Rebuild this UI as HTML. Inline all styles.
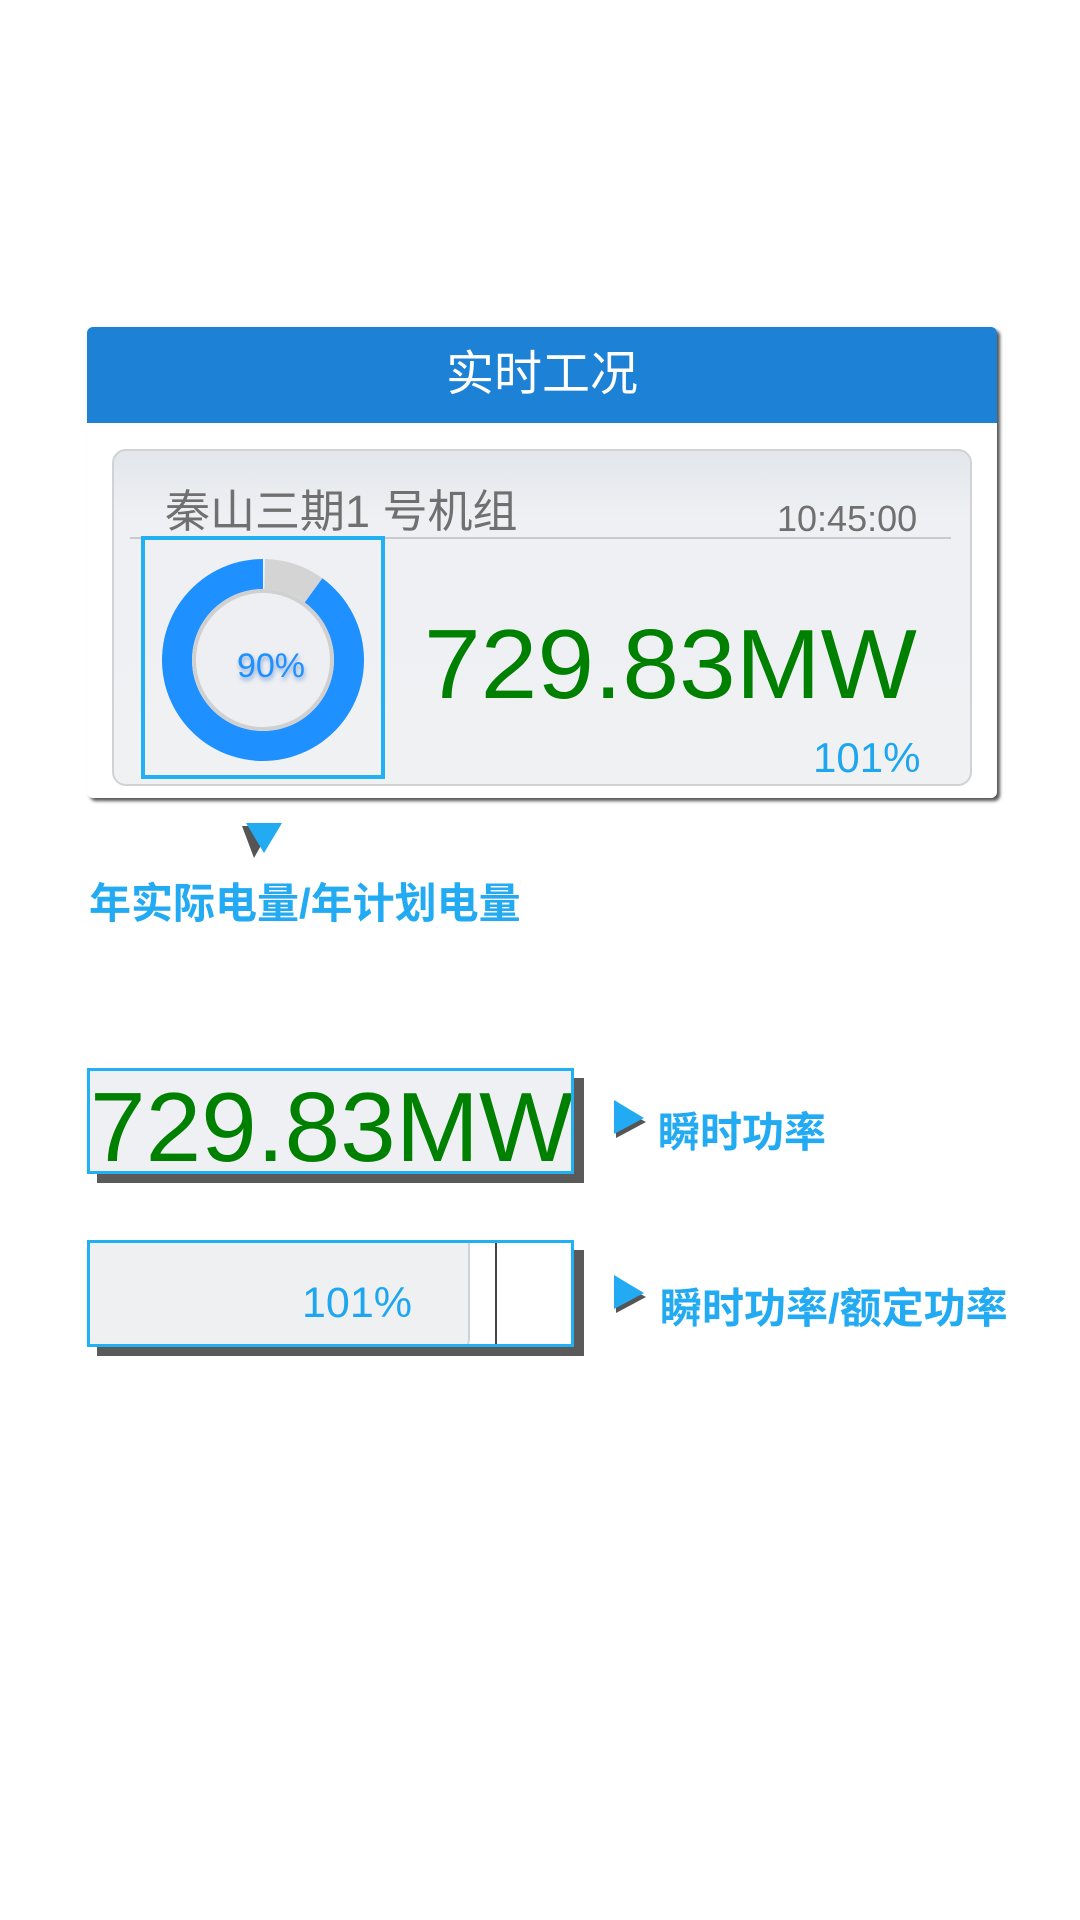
<!DOCTYPE html>
<html><head><meta charset="utf-8"><style>
body{margin:0;width:1080px;height:1920px;background:#fff;position:relative;overflow:hidden;font-family:"Liberation Sans","Noto Sans CJK SC",sans-serif}
.abs{position:absolute}
.lbl{color:#22aaf2;font-weight:bold;white-space:nowrap}
.big{font-size:98px;color:#008000;line-height:1;transform:scaleX(1.04);transform-origin:left top;white-space:nowrap}
</style></head><body>
<div class="abs" style="left:87px;top:327px;width:910px;height:471px;background:#fff;border-radius:6px;box-shadow:3px 3px 3px #555;overflow:hidden">
 <div class="abs" style="left:0;top:0;width:910px;height:96px;background:#1d82d6;color:#fff;font-size:48px;line-height:96px;text-align:center">实时工况</div>
 <div class="abs" style="left:25px;top:122px;width:856px;height:333px;background:linear-gradient(#e3e6eb,#eef0f3 20%,#f0f1f3);border:2px solid #d0d2d5;border-radius:14px"></div>
 <div class="abs" style="left:78px;top:148px;font-size:45px;color:#707070;white-space:nowrap">秦山三期1 号机组</div>
 <div class="abs" style="left:690px;top:171px;font-size:36px;color:#707070">10:45:00</div>
 <div class="abs" style="left:43px;top:210px;width:821px;height:2px;background:#c8cacd"></div>
 <svg class="abs" id="donut" style="left:54px;top:209px" width="243" height="243"></svg>
 <div class="abs big" style="left:337px;top:288px">729.83MW</div>
 <div class="abs" style="left:726px;top:407px;font-size:42px;color:#1ea7f0">101%</div>
</div>
<svg class="abs" style="left:238px;top:820px" width="50" height="40"><polygon points="4,6 34,6 16,38" fill="#555"/><polygon points="8,3 44,3 26,33" fill="#22aaf2"/></svg>
<div class="abs lbl" style="left:89px;top:870px;font-size:42px">年实际电量/年计划电量</div>
<div class="abs" style="left:97px;top:1078px;width:487px;height:105px;background:#5a5a5a"></div>
<div class="abs" style="left:87px;top:1068px;width:481px;height:100px;border:3px solid #22b0f5;background:#eef0f3;overflow:hidden">
 <div class="abs big" style="left:0px;top:7px;transform:scaleX(1.02)">729.83MW</div>
</div>
<svg class="abs" style="left:612px;top:1098px" width="40" height="46"><polygon points="4,40 4,8 34,24" fill="#555"/><polygon points="2,2 2,36 32,20" fill="#22aaf2"/></svg>
<div class="abs lbl" style="left:658px;top:1099px;font-size:42px">瞬时功率</div>
<div class="abs" style="left:97px;top:1250px;width:487px;height:106px;background:#5a5a5a"></div>
<div class="abs" style="left:87px;top:1240px;width:481px;height:101px;border:3px solid #22b0f5;background:#fff;overflow:hidden">
 <div class="abs" style="left:-20px;top:-20px;width:396px;height:126px;background:#eff0f2;border:2px solid #d0d2d5;border-radius:14px"></div>
 <div class="abs" style="left:405px;top:0;width:2px;height:101px;background:#444"></div>
 <div class="abs" style="left:212px;top:36px;font-size:43px;color:#1ea7f0">101%</div>
</div>
<svg class="abs" style="left:612px;top:1273px" width="40" height="46"><polygon points="4,40 4,8 34,24" fill="#555"/><polygon points="2,2 2,36 32,20" fill="#22aaf2"/></svg>
<div class="abs lbl" style="left:660px;top:1275px;font-size:42px">瞬时功率/额定功率</div>
<script>
const donutValue = [90];
const donutMax = [100];
const donutLabel = ['90%'];
const svg=document.getElementById('donut');
const NS='http://www.w3.org/2000/svg';
const cx=122,cy=124,R=101,r=71;
function arcPath(a0,a1){
 const p=(a,rad)=>[cx+rad*Math.sin(a),cy-rad*Math.cos(a)];
 const large=(a1-a0)>Math.PI?1:0;
 const [x0,y0]=p(a0,R),[x1,y1]=p(a1,R),[x2,y2]=p(a1,r),[x3,y3]=p(a0,r);
 return `M${x0} ${y0}A${R} ${R} 0 ${large} 1 ${x1} ${y1}L${x2} ${y2}A${r} ${r} 0 ${large} 0 ${x3} ${y3}Z`;
}
const frac=donutValue[0]/donutMax[0];
const aSplit=(1-frac)*2*Math.PI;
const bg=document.createElementNS(NS,'path');


bg.setAttribute('d',arcPath(0.02,aSplit));bg.setAttribute('fill','#d4d4d4');svg.appendChild(bg);
const fg=document.createElementNS(NS,'path');


fg.setAttribute('d',arcPath(aSplit,2*Math.PI));fg.setAttribute('fill','#1e90ff');svg.appendChild(fg);
const inner=document.createElementNS(NS,'circle');


inner.setAttribute('cx',cx);inner.setAttribute('cy',cy);inner.setAttribute('r',r-2);
inner.setAttribute('fill','#eeeff2');inner.setAttribute('stroke','#d0d0d0');inner.setAttribute('stroke-width','4');svg.appendChild(inner);
const t=document.createElementNS(NS,'text');


t.setAttribute('x',cx+8);t.setAttribute('y',cy+17);t.setAttribute('text-anchor','middle');
t.setAttribute('font-size','34');t.setAttribute('fill','#1e90ff');t.setAttribute('font-family','Liberation Sans, sans-serif');
t.setAttribute('style','filter:drop-shadow(1px 3px 2px rgba(30,100,200,0.5))');
t.textContent=donutLabel[0];svg.appendChild(t);
</script>
<div class="abs" style="left:141px;top:536px;width:236px;height:235px;border:4px solid #22b0f5"></div>
</body></html>
